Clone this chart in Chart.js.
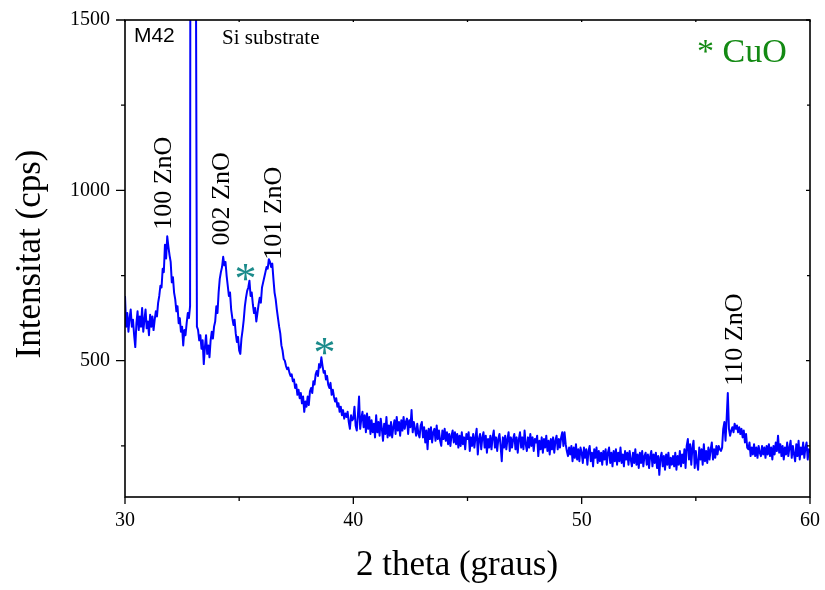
<!DOCTYPE html>
<html lang="ca">
<head>
<meta charset="utf-8">
<title>DRX M42</title>
<script src="https://cdn.jsdelivr.net/npm/chart.js@4.4.1/dist/chart.umd.min.js"></script>
<style>
  html, body { margin: 0; padding: 0; background: #fff; }
  canvas { display: block; }
</style>
</head>
<body>
<canvas id="drx" width="825" height="590"></canvas>
<script>
// Varrido 2theta: inici i pas (graus)
const thetaStart = 30;
const thetaStep = 0.05;

// Intensitat (cps), una fila per grau (20 punts), de 30.00 a 60.00
const counts = [
  690, 600, 640, 585, 625, 650, 600, 620, 575, 540, 610, 645, 590, 630, 600, 655, 585, 620, 650, 595,
  615, 575, 635, 600, 630, 590, 620, 645, 630, 670, 690, 720, 715, 770, 760, 840, 800, 865, 835, 810,
  790, 730, 745, 700, 680, 645, 660, 610, 625, 585, 600, 545, 590, 575, 610, 640, 625, 660, 5000, 5200,
  5100, 4800, 1800, 600, 590, 560, 575, 535, 560, 490, 540, 575, 520, 545, 510, 560, 585, 565, 600, 615,
  660, 640, 700, 740, 760, 775, 805, 780, 790, 750, 720, 690, 700, 650, 625, 605, 620, 580, 555, 570,
  530, 520, 565, 590, 620, 660, 685, 705, 715, 735, 690, 700, 665, 640, 655, 615, 640, 665, 685, 670,
  715, 730, 745, 760, 775, 770, 798, 790, 775, 785, 740, 700, 680, 650, 625, 600, 580, 545, 530, 505,
  500, 485, 475, 480, 465, 455, 460, 440, 445, 420, 430, 400, 415, 390, 405, 375, 395, 350, 380, 365,
  395, 370, 410, 420, 405, 440, 430, 460, 470, 455, 490, 480, 510, 485, 465, 470, 445, 455, 430, 420,
  435, 400, 415, 395, 380, 390, 365, 375, 350, 365, 340, 355, 330, 345, 335, 350, 320, 300, 340, 325,
  330, 365, 310, 295, 340, 395, 300, 330, 350, 305, 340, 290, 345, 300, 335, 285, 325, 290, 315, 275,
  340, 290, 320, 280, 330, 300, 265, 315, 285, 335, 275, 310, 280, 320, 275, 305, 325, 285, 335, 295,
  320, 280, 325, 295, 335, 300, 320, 330, 285, 325, 305, 355, 290, 320, 300, 280, 315, 285, 275, 310,
  320, 275, 305, 260, 295, 240, 300, 270, 305, 260, 290, 300, 265, 310, 270, 295, 265, 250, 295, 270,
  300, 265, 290, 255, 285, 250, 280, 295, 260, 290, 255, 285, 245, 280, 250, 290, 255, 275, 240, 285,
  270, 290, 235, 275, 250, 285, 245, 275, 300, 225, 270, 285, 240, 275, 290, 245, 280, 230, 270, 245,
  280, 240, 275, 295, 245, 275, 235, 270, 285, 250, 205, 275, 245, 280, 240, 270, 290, 235, 275, 245,
  270, 285, 240, 275, 230, 270, 290, 245, 275, 240, 295, 255, 235, 275, 245, 285, 250, 275, 235, 270,
  260, 280, 220, 265, 240, 275, 230, 270, 245, 280, 235, 265, 225, 270, 240, 275, 230, 265, 280, 240,
  270, 245, 275, 290, 250, 290, 255, 235, 220, 245, 225, 250, 205, 245, 215, 255, 210, 240, 205, 245,
  230, 200, 245, 215, 240, 195, 235, 250, 205, 230, 190, 240, 215, 245, 200, 235, 205, 230, 195, 235,
  210, 240, 195, 230, 245, 200, 230, 190, 235, 205, 240, 195, 230, 205, 245, 200, 225, 190, 235, 210,
  230, 195, 235, 210, 190, 230, 200, 240, 195, 225, 185, 230, 200, 235, 190, 220, 230, 195, 225, 185,
  220, 235, 190, 225, 200, 230, 185, 220, 165, 215, 230, 190, 220, 180, 225, 195, 230, 185, 215, 195,
  220, 190, 230, 180, 220, 195, 235, 190, 225, 200, 240, 185, 250, 270, 210, 255, 195, 245, 265, 185,
  235, 200, 180, 245, 210, 240, 195, 255, 205, 235, 200, 245, 210, 240, 260, 210, 240, 215, 250, 225,
  250, 240, 235, 245, 300, 320, 265, 330, 405, 300, 280, 295, 305, 290, 315, 300, 310, 290, 305, 285,
  300, 275, 295, 260, 285, 245, 240, 260, 220, 245, 225, 255, 220, 245, 215, 250, 230, 220, 250, 225,
  245, 215, 250, 225, 255, 220, 245, 210, 250, 225, 260, 235, 280, 230, 255, 220, 250, 210, 245, 225,
  260, 220, 245, 265, 215, 250, 225, 205, 255, 220, 265, 210, 245, 225, 260, 215, 245, 260, 210, 240,
  230
];

// Marques dels eixos
const xMajorTicks = [30, 40, 50, 60];
const xMinorTicks = [35, 45, 55];
const yMajorTicks = [500, 1000, 1500];
const yMinorTicks = [250, 750, 1250];

// Indexacio dels pics (posicio en unitats de dades)
const peakLabels = [
  { text: '100 ZnO', x: 31.71, y: 1021 },
  { text: '002 ZnO', x: 34.25, y: 975 },
  { text: '101 ZnO', x: 36.53, y: 933 },
  { text: '110 ZnO', x: 56.72, y: 562 }
];

// Asterisc dels pics de CuO
const cuoMarks = [
  { x: 35.37, y: 758 },
  { x: 38.83, y: 542 }
];

const SERIF = '"Liberation Serif", "Times New Roman", serif';
const SANS = '"Liberation Sans", Arial, sans-serif';

const points = counts.map((c, i) => ({ x: +(thetaStart + i * thetaStep).toFixed(2), y: c }));

// Text centrat en un punt, opcionalment girat
function drawText(ctx, text, px, py, font, color, rotate) {
  ctx.save();
  ctx.font = font;
  ctx.fillStyle = color;
  ctx.textAlign = 'center';
  ctx.textBaseline = 'middle';
  ctx.translate(px, py);
  if (rotate) ctx.rotate(-Math.PI / 2);
  ctx.fillText(text, 0, 0);
  ctx.restore();
}

// Glif centrat per la seva caixa real (per als asteriscs)
function drawGlyph(ctx, text, cx, cy, font, color) {
  ctx.save();
  ctx.font = font;
  ctx.fillStyle = color;
  ctx.textAlign = 'left';
  ctx.textBaseline = 'alphabetic';
  const m = ctx.measureText(text);
  const w = m.actualBoundingBoxRight - m.actualBoundingBoxLeft;
  const h = m.actualBoundingBoxAscent + m.actualBoundingBoxDescent;
  const x = cx - w / 2 + m.actualBoundingBoxLeft;
  const y = cy - h / 2 + m.actualBoundingBoxAscent;
  ctx.fillText(text, x, y);
  ctx.restore();
}

// Sense marge extra de les etiquetes: l'area del grafic la fixa el layout
function fixBox(size) {
  return s => {
    if (s.isHorizontal()) s.height = size; else s.width = size;
    s.paddingLeft = 0; s.paddingRight = 0; s.paddingTop = 0; s.paddingBottom = 0;
  };
}

const molduraPlugin = {
  id: 'moldura',
  afterDatasetsDraw(chart) {
    const ctx = chart.ctx;
    const a = chart.chartArea;
    const xs = chart.scales.x;
    const ys = chart.scales.y;

    ctx.save();
    ctx.strokeStyle = '#000';
    ctx.lineWidth = 1.6;
    ctx.strokeRect(a.left, a.top, a.right - a.left, a.bottom - a.top);

    ctx.lineWidth = 1.3;
    ctx.beginPath();
    // eix inferior: marques cap a fora, eix superior: petites cap a dins
    xMajorTicks.forEach(v => {
      const p = xs.getPixelForValue(v);
      ctx.moveTo(p, a.bottom); ctx.lineTo(p, a.bottom + 7);
      ctx.moveTo(p, a.top); ctx.lineTo(p, a.top + 2);
    });
    xMinorTicks.forEach(v => {
      const p = xs.getPixelForValue(v);
      ctx.moveTo(p, a.bottom); ctx.lineTo(p, a.bottom + 4);
      ctx.moveTo(p, a.top); ctx.lineTo(p, a.top + 2);
    });
    // eix esquerre cap a fora, eix dret cap a dins
    yMajorTicks.forEach(v => {
      const p = ys.getPixelForValue(v);
      ctx.moveTo(a.left, p); ctx.lineTo(a.left - 9, p);
      ctx.moveTo(a.right, p); ctx.lineTo(a.right - 4, p);
    });
    yMinorTicks.forEach(v => {
      const p = ys.getPixelForValue(v);
      ctx.moveTo(a.left, p); ctx.lineTo(a.left - 4, p);
      ctx.moveTo(a.right, p); ctx.lineTo(a.right - 3, p);
    });
    ctx.stroke();
    ctx.restore();

    // titols dels eixos
    ctx.save();
    ctx.font = '35px ' + SERIF;
    ctx.fillStyle = '#000';
    ctx.textAlign = 'center';
    ctx.textBaseline = 'alphabetic';
    ctx.fillText('2 theta (graus)', 457, 575);
    ctx.translate(40, 254);
    ctx.rotate(-Math.PI / 2);
    ctx.fillText('Intensitat (cps)', 0, 0);
    ctx.restore();

    // etiquetes dels pics
    peakLabels.forEach(l => {
      drawText(ctx, l.text, xs.getPixelForValue(l.x), ys.getPixelForValue(l.y), '26px ' + SERIF, '#000', true);
    });
    cuoMarks.forEach(m => {
      drawGlyph(ctx, '*', xs.getPixelForValue(m.x), ys.getPixelForValue(m.y), '44px ' + SERIF, '#1b8b8b');
    });

    // mostra, substrat i llegenda
    ctx.save();
    ctx.textAlign = 'left';
    ctx.textBaseline = 'middle';
    ctx.fillStyle = '#000';
    ctx.font = '21px ' + SANS;
    ctx.fillText('M42', xs.getPixelForValue(30.39), ys.getPixelForValue(1453));
    ctx.font = '21px ' + SERIF;
    ctx.fillText('Si substrate', xs.getPixelForValue(34.25), ys.getPixelForValue(1447));
    ctx.font = '34px ' + SERIF;
    ctx.fillStyle = '#138a13';
    ctx.fillText('* CuO', xs.getPixelForValue(55.05), ys.getPixelForValue(1402));
    ctx.restore();
  }
};

new Chart(document.getElementById('drx'), {
  type: 'line',
  data: {
    datasets: [{
      label: 'M42',
      data: points,
      borderColor: '#0000ff',
      borderWidth: 2,
      borderJoinStyle: 'round',
      pointRadius: 0,
      tension: 0,
      fill: false
    }]
  },
  options: {
    responsive: false,
    animation: false,
    layout: { padding: { top: 20, right: 15, left: 0, bottom: 0 } },
    plugins: {
      legend: { display: false },
      tooltip: { enabled: false }
    },
    scales: {
      x: {
        type: 'linear',
        min: 30,
        max: 60,
        afterFit: fixBox(93),
        afterBuildTicks: s => { s.ticks = xMajorTicks.map(v => ({ value: v })); },
        grid: { display: false, drawTicks: false },
        border: { display: false },
        ticks: {
          padding: 12,
          color: '#000',
          maxRotation: 0,
          autoSkip: false,
          callback: v => String(v),
          font: { family: SERIF, size: 20 }
        }
      },
      y: {
        min: 100,
        max: 1500,
        afterFit: fixBox(125),
        afterBuildTicks: s => { s.ticks = yMajorTicks.map(v => ({ value: v })); },
        grid: { display: false, drawTicks: false },
        border: { display: false },
        ticks: {
          padding: 15,
          color: '#000',
          autoSkip: false,
          callback: v => String(v),
          font: { family: SERIF, size: 20 }
        }
      }
    }
  },
  plugins: [molduraPlugin]
});
</script>
</body>
</html>
